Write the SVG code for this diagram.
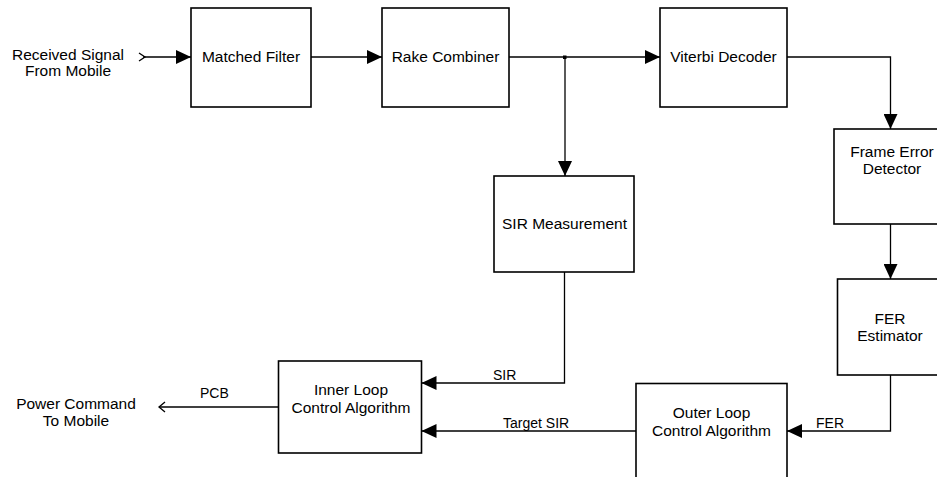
<svg xmlns="http://www.w3.org/2000/svg" width="937" height="477" viewBox="0 0 937 477">
<style>
.box{fill:#fff;stroke:#000;stroke-width:1.6}
.t{font-family:"Liberation Sans",Arial,sans-serif;font-size:15.5px;fill:#000;text-anchor:middle}
.l{font-family:"Liberation Sans",Arial,sans-serif;font-size:14px;fill:#000}
.c{fill:none;stroke:#000;stroke-width:1.3}
.o{fill:none;stroke:#000;stroke-width:1.3}
</style>
<defs>
<marker id="ah" markerWidth="15" markerHeight="14" refX="15" refY="7" orient="auto" markerUnits="userSpaceOnUse">
<path d="M0,0 L15,7 L0,14 Z" fill="#000"/>
</marker>
</defs>
<rect width="937" height="477" fill="#fff"/>

<g id="input">
<text class="t" x="68" y="60">Received Signal</text>
<text class="t" x="68" y="76">From Mobile</text>
</g>
<g id="output">
<text class="t" x="76" y="408.5">Power Command</text>
<text class="t" x="76" y="425.5">To Mobile</text>
</g>

<g id="matched-filter">
<rect class="box" x="191" y="8" width="120" height="99"/>
<text class="t" x="251" y="62">Matched Filter</text>
</g>
<g id="rake-combiner">
<rect class="box" x="382" y="8" width="127" height="99"/>
<text class="t" x="445.5" y="62">Rake Combiner</text>
</g>
<g id="viterbi-decoder">
<rect class="box" x="660" y="8" width="127" height="99"/>
<text class="t" x="723.5" y="62">Viterbi Decoder</text>
</g>
<g id="frame-error-detector">
<rect class="box" x="834" y="129" width="114" height="95"/>
<text class="t" x="892" y="157">Frame Error</text>
<text class="t" x="892" y="173.5">Detector</text>
</g>
<g id="sir-measurement">
<rect class="box" x="494" y="176" width="140" height="96"/>
<text class="t" x="564.5" y="229">SIR Measurement</text>
</g>
<g id="fer-estimator">
<rect class="box" x="837.5" y="279" width="108" height="96"/>
<text class="t" x="890" y="324">FER</text>
<text class="t" x="890" y="341">Estimator</text>
</g>
<g id="inner-loop">
<rect class="box" x="278.5" y="361" width="143" height="92"/>
<text class="t" x="351" y="395">Inner Loop</text>
<text class="t" x="351" y="412.5">Control Algorithm</text>
</g>
<g id="outer-loop">
<rect class="box" x="636" y="383.5" width="151" height="110"/>
<text class="t" x="711.5" y="418">Outer Loop</text>
<text class="t" x="711.5" y="435.5">Control Algorithm</text>
</g>

<g id="connectors">
<polyline class="o" points="139,53 145,57 139,61"/>
<line class="c" x1="143" y1="57" x2="191" y2="57" marker-end="url(#ah)"/>
<line class="c" x1="311" y1="57" x2="382" y2="57" marker-end="url(#ah)"/>
<line class="c" x1="509" y1="57" x2="660" y2="57" marker-end="url(#ah)"/>
<rect x="563" y="55.5" width="3.5" height="3.5" fill="#000"/>
<line class="c" x1="565" y1="57" x2="565" y2="176" marker-end="url(#ah)"/>
<polyline class="c" points="787,57 890.5,57 890.5,129" marker-end="url(#ah)"/>
<line class="c" x1="890.5" y1="224" x2="890.5" y2="279" marker-end="url(#ah)"/>
<polyline class="c" points="890.5,375 890.5,431 787,431" marker-end="url(#ah)"/>
<polyline class="c" points="564.5,272 564.5,383 421.5,383" marker-end="url(#ah)"/>
<line class="c" x1="636" y1="431" x2="421.5" y2="431" marker-end="url(#ah)"/>
<line class="c" x1="278.5" y1="407" x2="159" y2="407"/>
<polyline class="o" points="165,402 159,407 165,412"/>
<text class="l" x="200" y="398">PCB</text>
<text class="l" x="493" y="380">SIR</text>
<text class="l" x="503" y="428">Target SIR</text>
<text class="l" x="816" y="428">FER</text>
</g>
</svg>
